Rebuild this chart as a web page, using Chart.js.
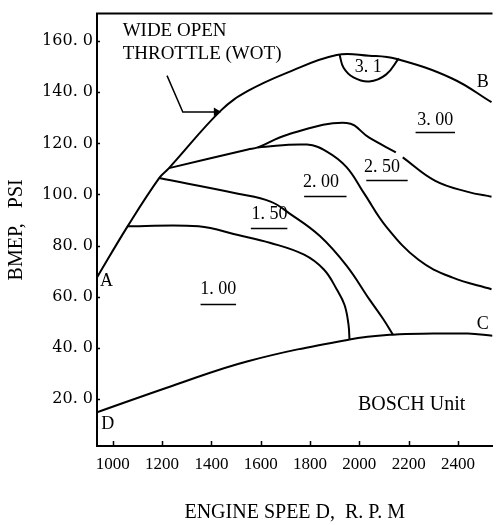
<!DOCTYPE html>
<html>
<head>
<meta charset="utf-8">
<script src="https://cdn.jsdelivr.net/npm/chart.js@4"></script>
<style>
  html, body { margin: 0; padding: 0; background: #fff; }
  canvas { display: block; }
</style>
</head>
<body>
<canvas id="map" width="498" height="525"></canvas>
<script>
const xTicks = [1000, 1200, 1400, 1600, 1800, 2000, 2200, 2400];
const yTicks = [20, 40, 60, 80, 100, 120, 140, 160];

// full load line A-B
const wotRpm  = [936, 1060, 1188, 1228, 1440, 1548, 1708, 1908, 2040, 2148, 2376, 2536];
const wotBmep = [67.5, 87.5, 106.4, 110.3, 133, 140.5, 147.7, 154.6, 154.3, 153.1, 145.4, 136.1];

// 3.1 island under the peak
const isle31Rpm  = [1920, 1936, 1976, 2040, 2108, 2160];
const isle31Bmep = [154.6, 149.6, 145.8, 144.2, 146.9, 153.3];

// 2.50 / 3.00 boundary, broken just past the 2.50 label
const c300aRpm  = [1228, 1548, 1588, 1708, 1948, 2040, 2148];
const c300aBmep = [110.3, 117.6, 118.4, 123.4, 128, 122.2, 116.5];
const c300bRpm  = [2176, 2308, 2440, 2536];
const c300bBmep = [114.5, 105.3, 101, 99.1];

// 2.00 / 2.50 boundary
const c250Rpm  = [1588, 1788, 1868, 1948, 2020, 2108, 2240, 2376, 2536];
const c250Bmep = [118.4, 119.5, 116.8, 110.7, 100.3, 87.5, 74.4, 67.5, 62.9];

// 1.50 / 2.00 boundary
const c200Rpm  = [1188, 1508, 1640, 1716, 1840, 1948, 2040, 2096, 2136];
const c200Bmep = [106.4, 100.3, 97.2, 92.6, 83.7, 72.1, 59, 51.3, 45.1];

// 1.00 / 1.50 boundary
const c150Rpm  = [1060, 1348, 1508, 1640, 1776, 1856, 1908, 1940, 1956, 1960];
const c150Bmep = [87.5, 87.5, 84.1, 81, 76.4, 70.6, 62.9, 56.7, 49, 43.2];

// part load line D-C
const lowRpm  = [936, 1240, 1548, 1960, 2136, 2300, 2440, 2540];
const lowBmep = [14.7, 25, 34.7, 43.2, 45.1, 45.5, 45.5, 44.7];

// pointer to the WOT line
const tagRpm  = [1220, 1284, 1420];
const tagBmep = [146.5, 132.3, 132.3];

function pts(xs, ys) {
  return xs.map((x, i) => ({ x: x, y: ys[i] }));
}

function curve(xs, ys) {
  return {
    data: pts(xs, ys),
    showLine: true,
    borderColor: '#000',
    borderWidth: 2,
    pointRadius: 0,
    tension: 0.4
  };
}

const serif = '"Liberation Serif", "Times New Roman", serif';

// text written on the map: [text, rpm, bmep, align, size]
const notes = [
  ['WIDE OPEN', 1040, 163.9, 'left', 19],
  ['THROTTLE (WOT)', 1040, 155, 'left', 19],
  ['3. 1', 2036, 149.6, 'center', 18],
  ['B', 2476, 143.8, 'left', 18],
  ['3. 00', 2308, 129.2, 'center', 18],
  ['2. 50', 2092, 110.7, 'center', 18],
  ['2. 00', 1844, 104.9, 'center', 18],
  ['1. 50', 1636, 92.2, 'center', 18],
  ['1. 00', 1428, 62.9, 'center', 18],
  ['A', 948, 66.1, 'left', 18],
  ['C', 2476, 49.2, 'left', 18],
  ['D', 980, 10.2, 'center', 18],
  ['BOSCH Unit', 2212, 17.5, 'center', 20]
];
// underlines below the level labels: [rpm from, rpm to, bmep]
const rules = [
  [2228, 2388, 124.6],
  [2028, 2196, 105.7],
  [1776, 1948, 99.5],
  [1560, 1708, 86.8],
  [1356, 1500, 57.1]
];

const mapMarks = {
  id: 'mapMarks',
  afterDraw(chart) {
    const { ctx, chartArea: a, scales: { x, y } } = chart;
    ctx.save();
    ctx.strokeStyle = '#000';
    ctx.fillStyle = '#000';

    // frame top edge
    ctx.lineWidth = 2;
    ctx.beginPath();
    ctx.moveTo(a.left - 1, a.top);
    ctx.lineTo(a.right, a.top);
    ctx.stroke();

    // inward tick marks
    ctx.lineWidth = 1.5;
    ctx.beginPath();
    xTicks.forEach(v => {
      const px = Math.round(x.getPixelForValue(v)) + 0.5;
      ctx.moveTo(px, a.bottom);
      ctx.lineTo(px, a.bottom - 5);
    });
    yTicks.forEach(v => {
      const py = Math.round(y.getPixelForValue(v)) + 0.5;
      ctx.moveTo(a.left, py);
      ctx.lineTo(a.left + 3, py);
    });
    ctx.stroke();

    ctx.textBaseline = 'middle';
    notes.forEach(([t, rx, by, al, sz]) => {
      ctx.font = sz + 'px ' + serif;
      ctx.textAlign = al;
      ctx.fillText(t, x.getPixelForValue(rx), y.getPixelForValue(by));
    });

    ctx.lineWidth = 1.5;
    ctx.beginPath();
    rules.forEach(([r0, r1, b]) => {
      const py = Math.round(y.getPixelForValue(b)) + 0.5;
      ctx.moveTo(x.getPixelForValue(r0), py);
      ctx.lineTo(x.getPixelForValue(r1), py);
    });
    ctx.stroke();
    ctx.restore();
  }
};

const tag = curve(tagRpm, tagBmep);
tag.borderWidth = 1.5;
tag.tension = 0;
tag.pointRadius = [0, 0, 3.5];
tag.pointStyle = 'triangle';
tag.rotation = 90;
tag.pointBackgroundColor = '#000';
tag.pointBorderColor = '#000';

new Chart(document.getElementById('map'), {
  type: 'scatter',
  data: {
    datasets: [
      curve(wotRpm, wotBmep),
      curve(isle31Rpm, isle31Bmep),
      curve(c300aRpm, c300aBmep),
      curve(c300bRpm, c300bBmep),
      curve(c250Rpm, c250Bmep),
      curve(c200Rpm, c200Bmep),
      curve(c150Rpm, c150Bmep),
      curve(lowRpm, lowBmep),
      tag
    ]
  },
  options: {
    responsive: false,
    animation: false,
    events: [],
    layout: { padding: { top: 7, right: 0, bottom: 0, left: 0 } },
    plugins: { legend: { display: false }, tooltip: { enabled: false } },
    scales: {
      x: {
        type: 'linear',
        min: 936,
        max: 2540,
        afterBuildTicks: s => { s.ticks = xTicks.map(v => ({ value: v })); },
        afterFit: s => { s.height = 79; },
        grid: { display: true, drawOnChartArea: false, drawTicks: false },
        border: { display: true, color: '#000', width: 2 },
        ticks: {
          color: '#000',
          padding: 8,
          maxRotation: 0,
          font: { family: serif, size: 17 },
          callback: v => String(v)
        },
        title: {
          display: true,
          text: 'ENGINE SPEE D,  R. P. M',
          color: '#000',
          font: { family: serif, size: 20 },
          padding: { top: 0, bottom: 0 }
        }
      },
      y: {
        type: 'linear',
        min: 1.5,
        max: 170.8,
        afterBuildTicks: s => { s.ticks = yTicks.map(v => ({ value: v })); },
        afterFit: s => { s.width = 97; },
        grid: { display: true, drawOnChartArea: false, drawTicks: false },
        border: { display: true, color: '#000', width: 2 },
        ticks: {
          color: '#000',
          padding: 4,
          font: { family: '"DejaVu Serif", serif', size: 16 },
          callback: v => v.toFixed(1).replace('.', '. ')
        },
        title: {
          display: true,
          text: 'BMEP,   PSI',
          color: '#000',
          font: { family: serif, size: 20 },
          padding: { top: 5, bottom: 0 }
        }
      }
    }
  },
  plugins: [mapMarks]
});
</script>
</body>
</html>
